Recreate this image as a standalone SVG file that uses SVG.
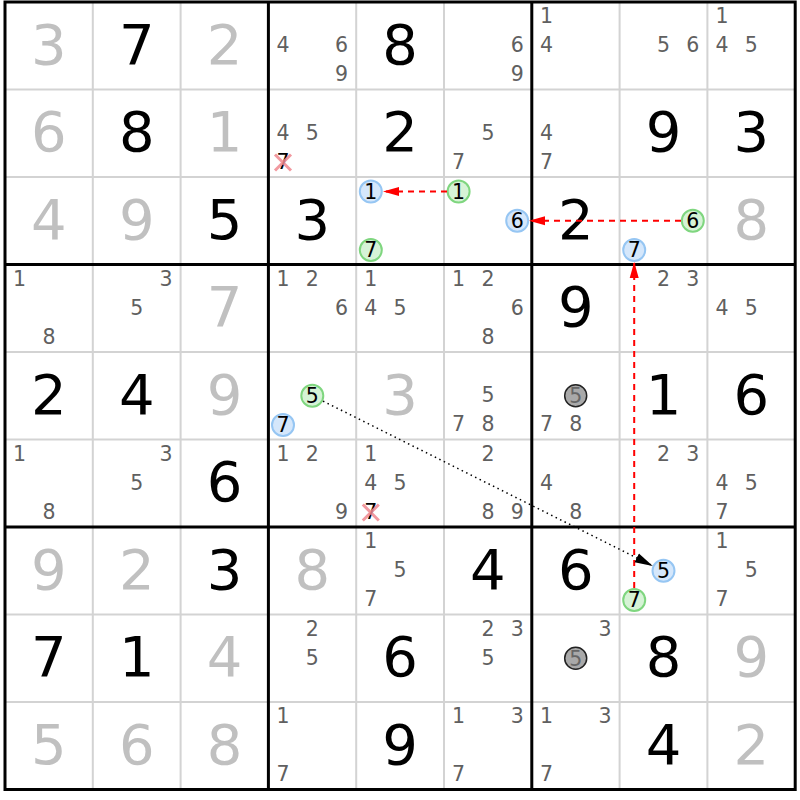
<svg xmlns="http://www.w3.org/2000/svg" width="800" height="800" viewBox="0 0 800 800">
<style>
text{font-family:"DejaVu Sans","Liberation Sans",sans-serif;text-anchor:middle}
.b{font-size:56px}
.g{fill:#000}
.s{fill:#c0c0c0}
.c{font-size:20.5px;fill:#606060}
.k{font-size:20.5px;fill:#000}
.thin{stroke:#d3d3d3;stroke-width:2;fill:none}
.thick{stroke:#000;stroke-width:3;fill:none}
.cb{fill:#d5e7fb;stroke:#96c6f3;stroke-width:2}
.cg{fill:#d6f3d6;stroke:#7fd67f;stroke-width:2}
.cx{fill:#a9a9a9;stroke:#222;stroke-width:1.5}
.cxt{font-size:20.5px;fill:#666}
.x{stroke:#f08890;stroke-width:3;opacity:0.85}
.red{stroke:#ff0000;stroke-width:2;stroke-dasharray:6,5;fill:none}
.dot{stroke:#000;stroke-width:1.5;stroke-dasharray:1.5,3.5;fill:none}
</style>
<defs>
<marker id="ar" markerUnits="userSpaceOnUse" markerWidth="17" markerHeight="11" refX="16" refY="5" orient="auto"><path d="M0,0.5 L16,5 L0,9.5 z" fill="#ff0000"/></marker>
<marker id="ab" markerUnits="userSpaceOnUse" markerWidth="19" markerHeight="12" refX="18" refY="5.5" orient="auto"><path d="M0,0.5 L18,5.5 L0,10.5 z" fill="#000"/></marker>
</defs>
<rect width="800" height="800" fill="#fff"/>
<g id="grid">
<path class="thin" d="M92.8,2V789.5M180.6,2V789.5M356.2,2V789.5M444,2V789.5M619.6,2V789.5M707.4,2V789.5M5,89.5H795.2M5,177H795.2M5,352H795.2M5,439.5H795.2M5,614.5H795.2M5,702H795.2"/>
<path class="thick" d="M268.4,2V789.5M531.8,2V789.5M5,264.5H795.2M5,527H795.2"/>
<rect class="thick" x="5" y="2" width="790.2" height="787.5"/>
</g>
<g id="row1" transform="translate(0,-0.8)">
<g id="r1c1"><text class="b s" x="48.9" y="64.55">3</text></g>
<g id="r1c2"><text class="b g" x="136.7" y="64.55">7</text></g>
<g id="r1c3"><text class="b s" x="224.5" y="64.55">2</text></g>
<g id="r1c4"><text class="c" x="283" y="52.75">4</text><text class="c" x="341.6" y="52.75">6</text><text class="c" x="341.6" y="81.95">9</text></g>
<g id="r1c5"><text class="b g" x="400.1" y="64.55">8</text></g>
<g id="r1c6"><text class="c" x="517.2" y="52.75">6</text><text class="c" x="517.2" y="81.95">9</text></g>
<g id="r1c7"><text class="c" x="546.4" y="23.55">1</text><text class="c" x="546.4" y="52.75">4</text></g>
<g id="r1c8"><text class="c" x="663.5" y="52.75">5</text><text class="c" x="692.8" y="52.75">6</text></g>
<g id="r1c9"><text class="c" x="722" y="23.55">1</text><text class="c" x="722" y="52.75">4</text><text class="c" x="751.3" y="52.75">5</text></g>
</g>
<g id="row2">
<g id="r2c1"><text class="b s" x="48.9" y="151.25">6</text></g>
<g id="r2c2"><text class="b g" x="136.7" y="151.25">8</text></g>
<g id="r2c3"><text class="b s" x="224.5" y="151.25">1</text></g>
<g id="r2c4"><text class="c" x="283" y="139.75">4</text><text class="c" x="312.3" y="139.75">5</text><text class="k" x="283" y="168.95">7</text><path class="x" d="M275,154.5L291,170.5M291,154.5L275,170.5"/></g>
<g id="r2c5"><text class="b g" x="400.1" y="151.25">2</text></g>
<g id="r2c6"><text class="c" x="487.9" y="139.75">5</text><text class="c" x="458.6" y="168.95">7</text></g>
<g id="r2c7"><text class="c" x="546.4" y="139.75">4</text><text class="c" x="546.4" y="168.95">7</text></g>
<g id="r2c8"><text class="b g" x="663.5" y="151.25">9</text></g>
<g id="r2c9"><text class="b g" x="751.3" y="151.25">3</text></g>
</g>
<g id="row3">
<g id="r3c1"><text class="b s" x="48.9" y="238.75">4</text></g>
<g id="r3c2"><text class="b s" x="136.7" y="238.75">9</text></g>
<g id="r3c3"><text class="b g" x="224.5" y="238.75">5</text></g>
<g id="r3c4"><text class="b g" x="312.3" y="238.75">3</text></g>
<g id="r3c5"><circle class="cb" cx="370.8" cy="191.55" r="11"/><text class="k" x="370.8" y="198.8">1</text><circle class="cg" cx="370.8" cy="249.95" r="11"/><text class="k" x="370.8" y="257.2">7</text></g>
<g id="r3c6"><circle class="cg" cx="458.6" cy="191.55" r="11"/><text class="k" x="458.6" y="198.8">1</text><circle class="cb" cx="517.2" cy="220.75" r="11"/><text class="k" x="517.2" y="228">6</text></g>
<g id="r3c7"><text class="b g" x="575.7" y="238.75">2</text></g>
<g id="r3c8"><circle class="cg" cx="692.8" cy="220.75" r="11"/><text class="k" x="692.8" y="228">6</text><circle class="cb" cx="634.2" cy="249.95" r="11"/><text class="k" x="634.2" y="257.2">7</text></g>
<g id="r3c9"><text class="b s" x="751.3" y="238.75">8</text></g>
</g>
<g id="row4">
<g id="r4c1"><text class="c" x="19.6" y="285.55">1</text><text class="c" x="48.9" y="343.95">8</text></g>
<g id="r4c2"><text class="c" x="166" y="285.55">3</text><text class="c" x="136.7" y="314.75">5</text></g>
<g id="r4c3"><text class="b s" x="224.5" y="326.25">7</text></g>
<g id="r4c4"><text class="c" x="283" y="285.55">1</text><text class="c" x="312.3" y="285.55">2</text><text class="c" x="341.6" y="314.75">6</text></g>
<g id="r4c5"><text class="c" x="370.8" y="285.55">1</text><text class="c" x="370.8" y="314.75">4</text><text class="c" x="400.1" y="314.75">5</text></g>
<g id="r4c6"><text class="c" x="458.6" y="285.55">1</text><text class="c" x="487.9" y="285.55">2</text><text class="c" x="517.2" y="314.75">6</text><text class="c" x="487.9" y="343.95">8</text></g>
<g id="r4c7"><text class="b g" x="575.7" y="326.25">9</text></g>
<g id="r4c8"><text class="c" x="663.5" y="285.55">2</text><text class="c" x="692.8" y="285.55">3</text></g>
<g id="r4c9"><text class="c" x="722" y="314.75">4</text><text class="c" x="751.3" y="314.75">5</text></g>
</g>
<g id="row5">
<g id="r5c1"><text class="b g" x="48.9" y="413.75">2</text></g>
<g id="r5c2"><text class="b g" x="136.7" y="413.75">4</text></g>
<g id="r5c3"><text class="b s" x="224.5" y="413.75">9</text></g>
<g id="r5c4"><circle class="cg" cx="312.3" cy="395.75" r="11"/><text class="k" x="312.3" y="403">5</text><circle class="cb" cx="283" cy="424.95" r="11"/><text class="k" x="283" y="432.2">7</text></g>
<g id="r5c5"><text class="b s" x="400.1" y="413.75">3</text></g>
<g id="r5c6"><text class="c" x="487.9" y="402.25">5</text><text class="c" x="458.6" y="431.45">7</text><text class="c" x="487.9" y="431.45">8</text></g>
<g id="r5c7"><circle class="cx" cx="575.7" cy="395.75" r="11"/><text class="cxt" x="575.7" y="403">5</text><text class="c" x="546.4" y="431.45">7</text><text class="c" x="575.7" y="431.45">8</text></g>
<g id="r5c8"><text class="b g" x="663.5" y="413.75">1</text></g>
<g id="r5c9"><text class="b g" x="751.3" y="413.75">6</text></g>
</g>
<g id="row6">
<g id="r6c1"><text class="c" x="19.6" y="460.55">1</text><text class="c" x="48.9" y="518.95">8</text></g>
<g id="r6c2"><text class="c" x="166" y="460.55">3</text><text class="c" x="136.7" y="489.75">5</text></g>
<g id="r6c3"><text class="b g" x="224.5" y="501.25">6</text></g>
<g id="r6c4"><text class="c" x="283" y="460.55">1</text><text class="c" x="312.3" y="460.55">2</text><text class="c" x="341.6" y="518.95">9</text></g>
<g id="r6c5"><text class="c" x="370.8" y="460.55">1</text><text class="c" x="370.8" y="489.75">4</text><text class="c" x="400.1" y="489.75">5</text><text class="k" x="370.8" y="518.95">7</text><path class="x" d="M362.8,504.5L378.8,520.5M378.8,504.5L362.8,520.5"/></g>
<g id="r6c6"><text class="c" x="487.9" y="460.55">2</text><text class="c" x="487.9" y="518.95">8</text><text class="c" x="517.2" y="518.95">9</text></g>
<g id="r6c7"><text class="c" x="546.4" y="489.75">4</text><text class="c" x="575.7" y="518.95">8</text></g>
<g id="r6c8"><text class="c" x="663.5" y="460.55">2</text><text class="c" x="692.8" y="460.55">3</text></g>
<g id="r6c9"><text class="c" x="722" y="489.75">4</text><text class="c" x="751.3" y="489.75">5</text><text class="c" x="722" y="518.95">7</text></g>
</g>
<g id="row7">
<g id="r7c1"><text class="b s" x="48.9" y="588.75">9</text></g>
<g id="r7c2"><text class="b s" x="136.7" y="588.75">2</text></g>
<g id="r7c3"><text class="b g" x="224.5" y="588.75">3</text></g>
<g id="r7c4"><text class="b s" x="312.3" y="588.75">8</text></g>
<g id="r7c5"><text class="c" x="370.8" y="548.05">1</text><text class="c" x="400.1" y="577.25">5</text><text class="c" x="370.8" y="606.45">7</text></g>
<g id="r7c6"><text class="b g" x="487.9" y="588.75">4</text></g>
<g id="r7c7"><text class="b g" x="575.7" y="588.75">6</text></g>
<g id="r7c8"><circle class="cb" cx="663.5" cy="570.75" r="11"/><text class="k" x="663.5" y="578">5</text><circle class="cg" cx="634.2" cy="599.95" r="11"/><text class="k" x="634.2" y="607.2">7</text></g>
<g id="r7c9"><text class="c" x="722" y="548.05">1</text><text class="c" x="751.3" y="577.25">5</text><text class="c" x="722" y="606.45">7</text></g>
</g>
<g id="row8">
<g id="r8c1"><text class="b g" x="48.9" y="676.25">7</text></g>
<g id="r8c2"><text class="b g" x="136.7" y="676.25">1</text></g>
<g id="r8c3"><text class="b s" x="224.5" y="676.25">4</text></g>
<g id="r8c4"><text class="c" x="312.3" y="635.55">2</text><text class="c" x="312.3" y="664.75">5</text></g>
<g id="r8c5"><text class="b g" x="400.1" y="676.25">6</text></g>
<g id="r8c6"><text class="c" x="487.9" y="635.55">2</text><text class="c" x="517.2" y="635.55">3</text><text class="c" x="487.9" y="664.75">5</text></g>
<g id="r8c7"><text class="c" x="605" y="635.55">3</text><circle class="cx" cx="575.7" cy="658.25" r="11"/><text class="cxt" x="575.7" y="665.5">5</text></g>
<g id="r8c8"><text class="b g" x="663.5" y="676.25">8</text></g>
<g id="r8c9"><text class="b s" x="751.3" y="676.25">9</text></g>
</g>
<g id="row9">
<g id="r9c1"><text class="b s" x="48.9" y="763.75">5</text></g>
<g id="r9c2"><text class="b s" x="136.7" y="763.75">6</text></g>
<g id="r9c3"><text class="b s" x="224.5" y="763.75">8</text></g>
<g id="r9c4"><text class="c" x="283" y="723.05">1</text><text class="c" x="283" y="781.45">7</text></g>
<g id="r9c5"><text class="b g" x="400.1" y="763.75">9</text></g>
<g id="r9c6"><text class="c" x="458.6" y="723.05">1</text><text class="c" x="517.2" y="723.05">3</text><text class="c" x="458.6" y="781.45">7</text></g>
<g id="r9c7"><text class="c" x="546.4" y="723.05">1</text><text class="c" x="605" y="723.05">3</text><text class="c" x="546.4" y="781.45">7</text></g>
<g id="r9c8"><text class="b g" x="663.5" y="763.75">4</text></g>
<g id="r9c9"><text class="b s" x="751.3" y="763.75">2</text></g>
</g>
<g id="connectors">
<path class="red" d="M447,191.55H383" marker-end="url(#ar)"/>
<path class="red" d="M681,220.75H529" marker-end="url(#ar)"/>
<path class="red" d="M634.2,588V262" marker-end="url(#ar)"/>
<path class="dot" d="M323,401.1L652.8,565.9" marker-end="url(#ab)"/>
</g>
</svg>
